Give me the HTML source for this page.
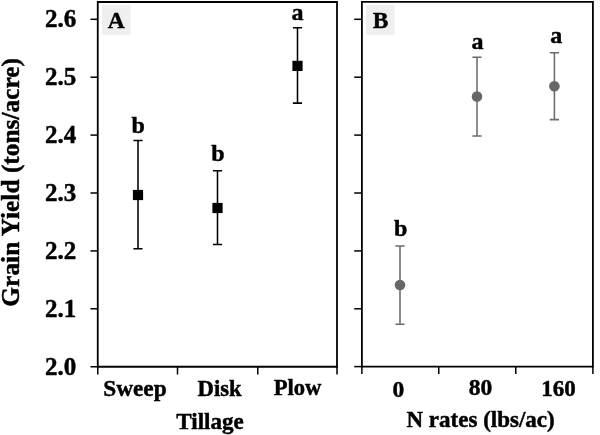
<!DOCTYPE html>
<html lang="en"><head><meta charset="utf-8"><title>Grain Yield</title>
<style>html,body{margin:0;padding:0;background:#fff}svg{display:block}</style></head>
<body>
<svg width="600" height="435" viewBox="0 0 600 435">
<rect width="600" height="435" fill="#fff"/>
<rect x="102" y="5" width="28.5" height="29.9" fill="#efefef"/>
<rect x="366" y="5" width="28.5" height="29.9" fill="#efefef"/>
<g stroke="#000" stroke-width="1.8" fill="none">
<path d="M97.75 366.75V2H337V366.75Z"/>
<path stroke-width="1.5" d="M97.75 366V374.6M177.5 366V374.6M257.75 366V374.6M337 366V374.6"/>
<path stroke-width="1.5" d="M90.5 19.3H97.75"/>
<path stroke-width="1.5" d="M90.5 77.2H97.75"/>
<path stroke-width="1.5" d="M90.5 135.1H97.75"/>
<path stroke-width="1.5" d="M90.5 193.0H97.75"/>
<path stroke-width="1.5" d="M90.5 250.9H97.75"/>
<path stroke-width="1.5" d="M90.5 308.8H97.75"/>
<path stroke-width="1.5" d="M90.5 366.75H97.75"/>
<path d="M361.9 366.6V1.8H592.9V366.6Z"/>
<path stroke-width="1.5" d="M361.9 366V374M438.75 366V374M515.75 366V374M592.9 366V374"/>
<path stroke-width="1.5" d="M354.25 19.3H361.9"/>
<path stroke-width="1.5" d="M354.25 77.2H361.9"/>
<path stroke-width="1.5" d="M354.25 135.1H361.9"/>
<path stroke-width="1.5" d="M354.25 193.0H361.9"/>
<path stroke-width="1.5" d="M354.25 250.9H361.9"/>
<path stroke-width="1.5" d="M354.25 308.8H361.9"/>
<path stroke-width="1.5" d="M354.25 366.6H361.9"/>
</g>
<path d="M138 140.5V248.75M133.4 140.5H142.6M133.4 248.75H142.6" stroke="#000" stroke-width="1.55" fill="none"/>
<path d="M217.5 170.75V244.5M212.9 170.75H222.1M212.9 244.5H222.1" stroke="#000" stroke-width="1.55" fill="none"/>
<path d="M297.5 27.8V103.1M292.9 27.8H302.1M292.9 103.1H302.1" stroke="#000" stroke-width="1.55" fill="none"/>
<rect x="132.9" y="189.9" width="10.2" height="10.2" fill="#000"/>
<rect x="212.4" y="202.9" width="10.2" height="10.2" fill="#000"/>
<rect x="292.4" y="60.800000000000004" width="10.2" height="10.2" fill="#000"/>
<path d="M400 246V324.2M395.4 246H404.6M395.4 324.2H404.6" stroke="#6c6c6c" stroke-width="1.55" fill="none"/>
<path d="M477 57.2V136M472.4 57.2H481.6M472.4 136H481.6" stroke="#6c6c6c" stroke-width="1.55" fill="none"/>
<path d="M554.4 52.8V119.6M549.8 52.8H559.0M549.8 119.6H559.0" stroke="#6c6c6c" stroke-width="1.55" fill="none"/>
<circle cx="400" cy="285" r="5.3" fill="#676767"/>
<circle cx="477" cy="96.5" r="5.3" fill="#676767"/>
<circle cx="554.4" cy="86.3" r="5.3" fill="#676767"/>
<g font-family="'Liberation Serif', serif" font-weight="bold" fill="#000" stroke="#000" stroke-width="0.45" stroke-linejoin="round">
<text x="60.5" y="27.4" font-size="25" text-anchor="middle">2.6</text>
<text x="60.5" y="85.3" font-size="25" text-anchor="middle">2.5</text>
<text x="60.5" y="143.2" font-size="25" text-anchor="middle">2.4</text>
<text x="60.5" y="201.1" font-size="25" text-anchor="middle">2.3</text>
<text x="60.5" y="259.0" font-size="25" text-anchor="middle">2.2</text>
<text x="60.5" y="316.90000000000003" font-size="25" text-anchor="middle">2.1</text>
<text x="60.5" y="374.8" font-size="25" text-anchor="middle">2.0</text>
<text x="134.9" y="395.6" font-size="23.3" text-anchor="middle">Sweep</text>
<text x="219.6" y="395.5" font-size="22.7" text-anchor="middle">Disk</text>
<text x="297.5" y="395.2" font-size="22.6" text-anchor="middle">Plow</text>
<text x="210" y="428.6" font-size="23" text-anchor="middle">Tillage</text>
<text x="398.4" y="396.5" font-size="23.5" text-anchor="middle">0</text>
<text x="480.6" y="394.8" font-size="23.5" text-anchor="middle">80</text>
<text x="558.6" y="396" font-size="23" text-anchor="middle">160</text>
<text x="480.6" y="426.5" font-size="23" text-anchor="middle">N rates (lbs/ac)</text>
<text x="116.3" y="27.9" font-size="23.5" text-anchor="middle">A</text>
<text x="380.6" y="28.1" font-size="23.5" text-anchor="middle">B</text>
<text x="138.1" y="133" font-size="24" text-anchor="middle">b</text>
<text x="217.9" y="160.5" font-size="24" text-anchor="middle">b</text>
<text x="297.4" y="20" font-size="24" text-anchor="middle">a</text>
<text x="400.7" y="236" font-size="24" text-anchor="middle">b</text>
<text x="477.4" y="48.75" font-size="24" text-anchor="middle">a</text>
<text x="556.3" y="43" font-size="24" text-anchor="middle">a</text>
<text transform="translate(19 182.3) rotate(-90)" font-size="25.4" text-anchor="middle">Grain Yield (tons/acre)</text>
</g>
</svg>
</body></html>
